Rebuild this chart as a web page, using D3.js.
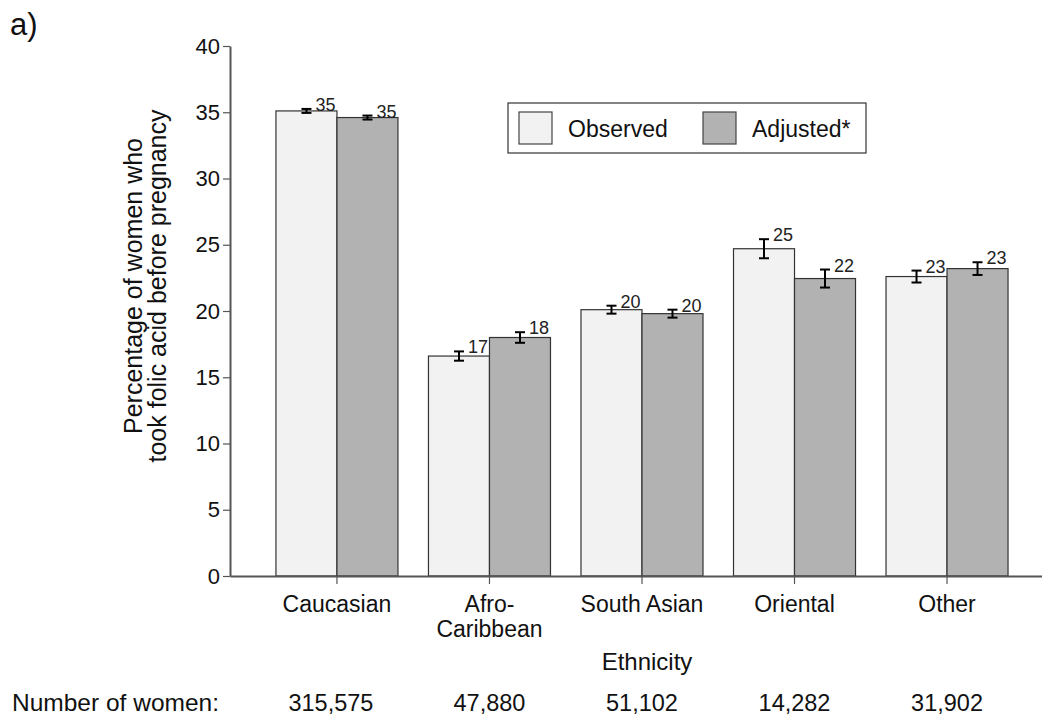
<!DOCTYPE html>
<html><head><meta charset="utf-8">
<script src="https://cdn.jsdelivr.net/npm/d3@7"></script>
<style>
html,body{margin:0;padding:0;background:#fff;}
svg{display:block;font-family:"Liberation Sans",Arial,sans-serif;}
</style></head>
<body><svg id="c" width="1042" height="719"></svg>
<script>
const categories = ["Caucasian", "Afro-Caribbean", "South Asian", "Oriental", "Other"];
const categoryLines = [["Caucasian"], ["Afro-", "Caribbean"], ["South Asian"], ["Oriental"], ["Other"]];
const seriesNames = ["Observed", "Adjusted*"];
const observed = [35.1, 16.6, 20.1, 24.7, 22.6];
const adjusted = [34.6, 18.0, 19.8, 22.45, 23.2];
const observedErr = [0.15, 0.35, 0.3, 0.72, 0.45];
const adjustedErr = [0.15, 0.4, 0.3, 0.68, 0.48];
const observedLabels = ["35", "17", "20", "25", "23"];
const adjustedLabels = ["35", "18", "20", "22", "23"];
const numberOfWomen = ["315,575", "47,880", "51,102", "14,282", "31,902"];
const yTicks = [0, 5, 10, 15, 20, 25, 30, 35, 40];

const svg = d3.select("#c");
const colors = ["#f2f2f2", "#b2b2b2"];

const x = d3.scaleBand().domain(categories).range([230, 1042])
  .paddingInner(0.2).paddingOuter(0.262).align(0.575);
const xs = d3.scaleBand().domain(seriesNames).range([0, x.bandwidth()]);
const y = d3.scaleLinear().domain([0, 40]).range([576, 46]);

const data = categories.map((c, i) => ({
  c, vals: [
    {s: seriesNames[0], v: observed[i], e: observedErr[i], l: observedLabels[i]},
    {s: seriesNames[1], v: adjusted[i], e: adjustedErr[i], l: adjustedLabels[i]}
  ]
}));

const g = svg.append("g");
const grp = g.selectAll("g.grp").data(data).join("g")
  .attr("transform", d => `translate(${x(d.c)},0)`);
grp.selectAll("rect").data(d => d.vals).join("rect")
  .attr("x", d => xs(d.s)).attr("width", xs.bandwidth())
  .attr("y", d => y(d.v)).attr("height", d => y(0) - y(d.v))
  .attr("fill", (d, i) => colors[i]).attr("stroke", "#333").attr("stroke-width", 1.2);

const eb = grp.selectAll("g.eb").data(d => d.vals).join("g")
  .attr("transform", d => `translate(${xs(d.s) + xs.bandwidth() / 2},0)`);
eb.append("line").attr("x1", 0).attr("x2", 0)
  .attr("y1", d => y(d.v + d.e)).attr("y2", d => y(d.v - d.e))
  .attr("stroke", "#000").attr("stroke-width", 2);
eb.append("line").attr("x1", -5).attr("x2", 5)
  .attr("y1", d => y(d.v + d.e)).attr("y2", d => y(d.v + d.e))
  .attr("stroke", "#000").attr("stroke-width", 2);
eb.append("line").attr("x1", -5).attr("x2", 5)
  .attr("y1", d => y(d.v - d.e)).attr("y2", d => y(d.v - d.e))
  .attr("stroke", "#000").attr("stroke-width", 2);
eb.append("text").attr("x", 9).attr("y", d => y(d.v + d.e) + 2)
  .attr("font-size", 18).attr("fill", "#222").text(d => d.l);

const yAxis = svg.append("g").attr("transform", "translate(230,0)")
  .call(d3.axisLeft(y).tickValues(yTicks).tickSize(7).tickSizeOuter(0).tickPadding(3));
yAxis.select(".domain").attr("stroke", "#555").attr("stroke-width", 2);
yAxis.selectAll(".tick line").attr("stroke", "#555").attr("stroke-width", 1.2);
yAxis.selectAll(".tick text").attr("font-size", 22).attr("fill", "#111")
  .attr("font-family", "Liberation Sans, Arial, sans-serif");

const xAxis = svg.append("g").attr("transform", "translate(0,576)")
  .call(d3.axisBottom(x).tickSize(8).tickSizeOuter(0).tickFormat(""));
xAxis.select(".domain").attr("stroke", "#555").attr("stroke-width", 2);
xAxis.selectAll(".tick line").attr("stroke", "#555").attr("stroke-width", 1.2);

svg.append("g").selectAll("text").data(categories).join("text")
  .attr("x", d => x(d) + x.bandwidth() / 2).attr("y", 612)
  .attr("text-anchor", "middle").attr("font-size", 23).attr("fill", "#111")
  .each(function(d, i) {
    const t = d3.select(this);
    categoryLines[i].forEach((ln, j) => {
      t.append("tspan").attr("x", x(d) + x.bandwidth() / 2).attr("dy", j === 0 ? 0 : 25).text(ln);
    });
  });

svg.append("text").attr("x", 647).attr("y", 670).attr("text-anchor", "middle")
  .attr("font-size", 24).attr("fill", "#111").text("Ethnicity");

svg.append("text").attr("x", 12).attr("y", 711).attr("font-size", 24.5).attr("fill", "#111")
  .text("Number of women:");
svg.append("g").selectAll("text").data(numberOfWomen).join("text")
  .attr("x", (d, i) => x(categories[i]) + x.bandwidth() / 2 - (i === 0 ? 6 : 0)).attr("y", 711)
  .attr("text-anchor", "middle").attr("font-size", 23.5).attr("fill", "#111").text(d => d);

const yt = svg.append("text").attr("transform", "translate(142,286) rotate(-90)")
  .attr("text-anchor", "middle").attr("font-size", 25).attr("fill", "#111");
yt.append("tspan").attr("x", 0).attr("dy", 0).text("Percentage of women who");
yt.append("tspan").attr("x", 0).attr("dy", 24).text("took folic acid before pregnancy");

svg.append("text").attr("x", 10).attr("y", 35).attr("font-size", 31).attr("fill", "#111").text("a)");

const lg = svg.append("g");
lg.append("rect").attr("x", 508).attr("y", 103).attr("width", 358).attr("height", 50)
  .attr("fill", "#fff").attr("stroke", "#333").attr("stroke-width", 1.2);
const legX = [519, 703];
seriesNames.forEach((s, i) => {
  lg.append("rect").attr("x", legX[i]).attr("y", 112).attr("width", 33).attr("height", 32)
    .attr("fill", colors[i]).attr("stroke", "#444").attr("stroke-width", 1.2);
  lg.append("text").attr("x", legX[i] + 49).attr("y", 137).attr("font-size", 23)
    .attr("fill", "#111").text(s);
});
</script></body></html>
